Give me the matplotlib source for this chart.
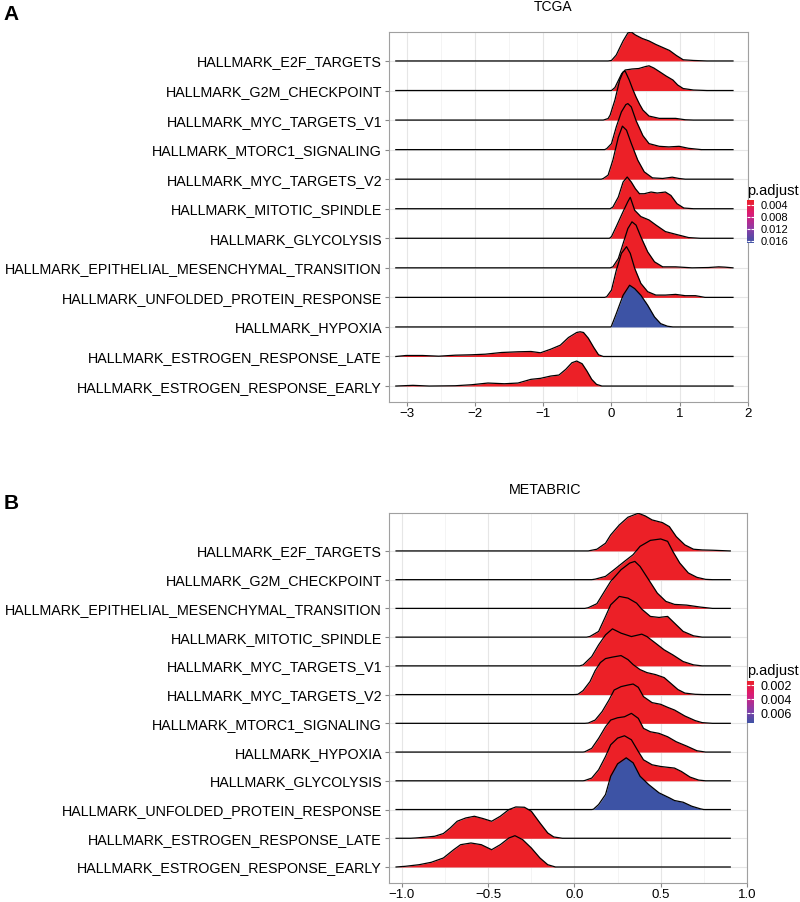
import matplotlib
matplotlib.use('Agg')
import matplotlib.pyplot as plt
import numpy as np
from matplotlib.colors import LinearSegmentedColormap, Normalize
from matplotlib.cm import ScalarMappable

plt.rcParams['font.family'] = ['Liberation Sans', 'DejaVu Sans']

# ---------------- Panel A : TCGA ----------------
tcga_terms = ["HALLMARK_E2F_TARGETS", "HALLMARK_G2M_CHECKPOINT", "HALLMARK_MYC_TARGETS_V1",
              "HALLMARK_MTORC1_SIGNALING", "HALLMARK_MYC_TARGETS_V2", "HALLMARK_MITOTIC_SPINDLE",
              "HALLMARK_GLYCOLYSIS", "HALLMARK_EPITHELIAL_MESENCHYMAL_TRANSITION",
              "HALLMARK_UNFOLDED_PROTEIN_RESPONSE", "HALLMARK_HYPOXIA",
              "HALLMARK_ESTROGEN_RESPONSE_LATE", "HALLMARK_ESTROGEN_RESPONSE_EARLY"]
tcga_padj = [0.0023, 0.0023, 0.0023, 0.0023, 0.0023, 0.0023, 0.0023, 0.0023, 0.0023, 0.0167, 0.0023, 0.0023]
tcga_range = [-3.16, 1.78]

tcga_e2f_x = [-0.05, 0.0, 0.07, 0.17, 0.24, 0.29, 0.35, 0.45, 0.55, 0.65, 0.75, 0.85, 0.95, 1.05, 1.2, 1.4]
tcga_e2f_h = [0, 0.5, 6, 20, 28, 29, 26, 22.5, 20, 16.5, 13.5, 10.5, 5.5, 1.2, 0.5, 0]
tcga_g2m_x = [0.0, 0.05, 0.1, 0.15, 0.2, 0.3, 0.4, 0.5, 0.55, 0.62, 0.7, 0.8, 0.9, 0.97, 1.05, 1.2, 1.4]
tcga_g2m_h = [0, 3, 10, 17, 20.5, 21.5, 22, 24, 24.7, 22.5, 19, 14.5, 10.5, 5.5, 2, 0.5, 0]
tcga_mycv1_x = [-0.12, -0.05, -0.02, 0.05, 0.12, 0.17, 0.2, 0.26, 0.31, 0.36, 0.41, 0.46, 0.55, 0.7, 0.85, 0.94, 1.08, 1.2]
tcga_mycv1_h = [0, 1.5, 5, 20, 40, 48, 49, 40, 31, 23, 16, 10, 4, 1.7, 1.7, 1.7, 0.3, 0]
tcga_mtorc1_x = [-0.1, -0.07, 0.0, 0.07, 0.145, 0.21, 0.24, 0.29, 0.36, 0.46, 0.55, 0.7, 0.84, 0.99, 1.13, 1.32]
tcga_mtorc1_h = [0, 1, 6, 22.7, 37.7, 45, 46, 42.7, 29, 14, 6, 3.3, 2.7, 3.3, 1.3, 0]
tcga_mycv2_x = [-0.15, -0.12, -0.05, 0.02, 0.1, 0.16, 0.22, 0.29, 0.385, 0.48, 0.6, 0.75, 0.89, 0.99, 1.08]
tcga_mycv2_h = [0, 0.7, 4, 19, 42, 53, 49, 35.7, 19, 7.3, 1.3, 0.7, 2, 0.7, 0]
tcga_mitotic_x = [-0.02, 0.02, 0.1, 0.17, 0.23, 0.29, 0.35, 0.41, 0.48, 0.58, 0.67, 0.79, 0.87, 0.96, 1.06, 1.2]
tcga_mitotic_h = [0, 1.7, 11.7, 26.7, 31.7, 26.7, 20, 15, 15, 16.7, 15.7, 16.7, 13.3, 5, 0.7, 0]
tcga_glyco_x = [-0.03, 0.0, 0.07, 0.17, 0.24, 0.275, 0.34, 0.43, 0.55, 0.65, 0.79, 0.94, 1.13, 1.3]
tcga_glyco_h = [0, 1.7, 11.7, 26.7, 36.7, 41, 28, 21.7, 18.3, 13.3, 6.7, 4, 0.7, 0]
tcga_emt_x = [-0.02, 0.02, 0.1, 0.17, 0.24, 0.3, 0.36, 0.43, 0.53, 0.63, 0.75, 0.94, 1.18, 1.42, 1.57, 1.66, 1.78]
tcga_emt_h = [0, 1, 9.3, 24.3, 39.3, 46, 42.7, 31, 16, 6, 1, 1, 0, 0.3, 1, 0.7, 0]
tcga_upr_x = [-0.1, -0.07, 0.0, 0.07, 0.145, 0.22, 0.275, 0.34, 0.43, 0.53, 0.65, 0.79, 0.94, 1.08, 1.23, 1.37]
tcga_upr_h = [0, 0.7, 7.3, 27, 44, 50.7, 44, 29, 14, 5.7, 2.3, 2.3, 3, 1.7, 1.7, 0]
tcga_hypoxia_x = [-0.01, 0.0, 0.07, 0.17, 0.265, 0.34, 0.43, 0.53, 0.63, 0.72, 0.82, 0.9]
tcga_hypoxia_h = [0, 1, 13.3, 31.7, 41.7, 38.3, 31.7, 21.7, 10, 3.3, 0.7, 0]
tcga_estlate_x = [-3.16, -3.01, -2.77, -2.53, -2.29, -2.05, -1.85, -1.61, -1.37, -1.18, -1.04, -0.89, -0.75,
                  -0.63, -0.51, -0.46, -0.41, -0.34, -0.26, -0.19, -0.12]
tcga_estlate_h = [0, 1, 1, 0.3, 1.3, 1.7, 2.3, 4, 4.7, 5, 3.7, 7.3, 11.3, 19, 24, 24.7, 24, 18.3, 9, 1.7, 0]
tcga_estearly_x = [-3.16, -2.91, -2.67, -2.29, -2.05, -1.81, -1.57, -1.37, -1.18, -1.04, -0.89, -0.77, -0.67,
                   -0.58, -0.51, -0.43, -0.36, -0.29, -0.22, -0.14]
tcga_estearly_h = [0, 0.7, 0, 0.3, 1.3, 3, 2.3, 3, 6.7, 7.7, 10, 11, 16.7, 23.3, 25, 22.3, 15, 6.7, 1.7, 0]

# ---------------- Panel B : METABRIC ----------------
meta_terms = ["HALLMARK_E2F_TARGETS", "HALLMARK_G2M_CHECKPOINT",
              "HALLMARK_EPITHELIAL_MESENCHYMAL_TRANSITION", "HALLMARK_MITOTIC_SPINDLE",
              "HALLMARK_MYC_TARGETS_V1", "HALLMARK_MYC_TARGETS_V2", "HALLMARK_MTORC1_SIGNALING",
              "HALLMARK_HYPOXIA", "HALLMARK_GLYCOLYSIS", "HALLMARK_UNFOLDED_PROTEIN_RESPONSE",
              "HALLMARK_ESTROGEN_RESPONSE_LATE", "HALLMARK_ESTROGEN_RESPONSE_EARLY"]
meta_padj = [0.0014, 0.0014, 0.0014, 0.0014, 0.0014, 0.0014, 0.0014, 0.0014, 0.0014, 0.0074, 0.0014, 0.0014]
meta_range = [-1.034, 0.903]

meta_e2f_x = [0.08, 0.13, 0.18, 0.21, 0.26, 0.31, 0.37, 0.41, 0.45, 0.51, 0.55, 0.59, 0.64, 0.69, 0.74, 0.8, 0.9]
meta_e2f_h = [0, 1.7, 7.7, 16, 26, 33.7, 37.7, 35, 31, 28.3, 24.3, 14.3, 6, 1.7, 1, 0.7, 0]
meta_g2m_x = [0.1, 0.12, 0.18, 0.23, 0.29, 0.34, 0.38, 0.44, 0.5, 0.54, 0.57, 0.61, 0.66, 0.71, 0.76, 0.8]
meta_g2m_h = [0, 0.5, 3.3, 10, 18.3, 25, 33.3, 39.3, 40.7, 38.3, 28.3, 16.7, 6.7, 2.3, 0.3, 0]
meta_emt_x = [0.06, 0.08, 0.13, 0.18, 0.21, 0.27, 0.32, 0.35, 0.38, 0.43, 0.48, 0.53, 0.58, 0.65, 0.73, 0.8]
meta_emt_h = [0, 0.7, 4.7, 18.7, 27, 38.7, 45.3, 47, 42, 28.7, 15.3, 7, 4, 3.3, 1.3, 0]
meta_mitotic_x = [0.07, 0.09, 0.14, 0.18, 0.21, 0.26, 0.31, 0.36, 0.39, 0.44, 0.49, 0.54, 0.58, 0.63, 0.69, 0.74]
meta_mitotic_h = [0, 0.7, 5.7, 20.7, 32.3, 40.7, 39, 34, 28, 20.7, 19.7, 20.7, 14, 5.7, 1.3, 0]
meta_mycv1_x = [0.03, 0.05, 0.1, 0.14, 0.18, 0.22, 0.27, 0.33, 0.39, 0.42, 0.47, 0.52, 0.57, 0.63, 0.69, 0.74]
meta_mycv1_h = [0, 1, 9.3, 21, 31, 37, 32.7, 29.3, 31.7, 29.3, 22.7, 16, 11, 4.3, 1, 0]
meta_mycv2_x = [0.0, 0.02, 0.05, 0.09, 0.12, 0.15, 0.18, 0.22, 0.27, 0.31, 0.34, 0.38, 0.42, 0.47, 0.52, 0.56,
                0.6, 0.64, 0.7, 0.75]
meta_mycv2_h = [0, 0.3, 4, 13, 24, 32, 36, 37.5, 39, 35, 30, 25, 22, 20, 17, 11, 5, 1.5, 0.3, 0]
meta_mtorc1_x = [0.06, 0.08, 0.12, 0.16, 0.2, 0.23, 0.27, 0.31, 0.34, 0.37, 0.4, 0.45, 0.5, 0.54, 0.58, 0.64,
                 0.7, 0.74, 0.8]
meta_mtorc1_h = [0, 0.3, 3.3, 11.7, 23.3, 33.3, 36.7, 38.3, 39.3, 36, 26.7, 20.7, 19, 16, 13.3, 7.3, 2.7, 0.7, 0]
meta_hypoxia_x = [0.05, 0.06, 0.1, 0.14, 0.18, 0.21, 0.25, 0.29, 0.33, 0.37, 0.4, 0.44, 0.49, 0.54, 0.59, 0.65,
                  0.71, 0.76]
meta_hypoxia_h = [0, 0.3, 3.7, 13.7, 25.3, 32, 34.3, 35.3, 38.7, 33.7, 23.7, 20.3, 18.7, 15.3, 10.3, 6, 1.3, 0]
meta_glyco_x = [0.05, 0.06, 0.1, 0.14, 0.18, 0.21, 0.25, 0.29, 0.33, 0.37, 0.4, 0.45, 0.5, 0.55, 0.58, 0.62,
                0.67, 0.72, 0.76]
meta_glyco_h = [0, 0.3, 2.7, 11, 24.3, 36, 42.7, 45, 41, 29.3, 21, 16, 14.3, 13.3, 12.7, 9.3, 3.7, 0.7, 0]
meta_upr_x = [0.1, 0.11, 0.14, 0.18, 0.21, 0.25, 0.3, 0.34, 0.38, 0.43, 0.49, 0.55, 0.58, 0.63, 0.68, 0.73, 0.75]
meta_upr_h = [0, 0.3, 5, 15, 33.3, 45.7, 51.7, 46.7, 33.3, 25, 16.7, 11.7, 9, 7.3, 3.3, 0.7, 0]
meta_estlate_x = [-0.95, -0.92, -0.87, -0.81, -0.76, -0.72, -0.68, -0.63, -0.58, -0.53, -0.48, -0.43, -0.38,
                  -0.34, -0.29, -0.25, -0.2, -0.155, -0.12, -0.07]
meta_estlate_h = [0, 0.3, 1, 2, 4.7, 10.3, 17, 20.3, 22, 19.7, 17, 22, 28.7, 31.3, 31, 27, 15.3, 5.3, 1.3, 0]
meta_estearly_x = [-1.034, -0.98, -0.9, -0.83, -0.76, -0.7, -0.66, -0.6, -0.54, -0.48, -0.43, -0.38, -0.345,
                   -0.3, -0.25, -0.2, -0.155, -0.11]
meta_estearly_h = [0, 0.7, 2.3, 4.7, 9, 17.3, 22.3, 24, 22.3, 17.3, 22.3, 29, 31.3, 27.3, 19, 9, 2.3, 0]

tcga_ridges = [(tcga_e2f_x, tcga_e2f_h), (tcga_g2m_x, tcga_g2m_h), (tcga_mycv1_x, tcga_mycv1_h),
               (tcga_mtorc1_x, tcga_mtorc1_h), (tcga_mycv2_x, tcga_mycv2_h), (tcga_mitotic_x, tcga_mitotic_h),
               (tcga_glyco_x, tcga_glyco_h), (tcga_emt_x, tcga_emt_h), (tcga_upr_x, tcga_upr_h),
               (tcga_hypoxia_x, tcga_hypoxia_h), (tcga_estlate_x, tcga_estlate_h),
               (tcga_estearly_x, tcga_estearly_h)]
meta_ridges = [(meta_e2f_x, meta_e2f_h), (meta_g2m_x, meta_g2m_h), (meta_emt_x, meta_emt_h),
               (meta_mitotic_x, meta_mitotic_h), (meta_mycv1_x, meta_mycv1_h), (meta_mycv2_x, meta_mycv2_h),
               (meta_mtorc1_x, meta_mtorc1_h), (meta_hypoxia_x, meta_hypoxia_h), (meta_glyco_x, meta_glyco_h),
               (meta_upr_x, meta_upr_h), (meta_estlate_x, meta_estlate_h), (meta_estearly_x, meta_estearly_h)]

tcga_xticks = [-3, -2, -1, 0, 1, 2]
tcga_xlabels = ["\u22123", "\u22122", "\u22121", "0", "1", "2"]
meta_xticks = [-1.0, -0.5, 0.0, 0.5, 1.0]
meta_xlabels = ["\u22121.0", "\u22120.5", "0.0", "0.5", "1.0"]
tcga_cbar_ticks = [0.004, 0.008, 0.012, 0.016]
meta_cbar_ticks = [0.002, 0.004, 0.006]

# ---------------- drawing ----------------
W, H = 800, 902
fig = plt.figure(figsize=(W / 100, H / 100), dpi=100)
fig.patch.set_facecolor('white')


def px_axes(l, t, r, b):
    return fig.add_axes([l / W, 1 - b / H, (r - l) / W, (b - t) / H])


cmap = LinearSegmentedColormap.from_list('padj', ['#EC2027', '#D91C78', '#8E3CA6', '#3D53A5'])
edge = '#A0A0A0'


def draw_panel(ax, terms, padj, ridges, line_range, hscale, xlim, ylim, xticks, xlabels, minor, norm):
    n = len(terms)
    for k, (p, (xs, hs)) in enumerate(zip(padj, ridges)):
        base = n - 1 - k
        x = np.concatenate([[line_range[0]], xs, [line_range[1]]])
        y = base + np.concatenate([[0], hs, [0]]) * hscale
        z = 3 + 2 * k
        ax.fill_between(x, base, y, color=cmap(norm(p)), lw=0, zorder=z)
        ax.plot(x, y, color='black', lw=0.9, zorder=z + 1, solid_joinstyle='round')
    ax.set_xlim(*xlim)
    ax.set_ylim(*ylim)
    ax.set_xticks(xticks)
    ax.set_xticklabels(xlabels)
    ax.set_xticks(minor, minor=True)
    ax.set_yticks(range(n))
    ax.set_yticklabels(terms[::-1])
    ax.grid(which='major', axis='both', color='#E6E6E6', lw=0.8, zorder=0)
    ax.grid(which='minor', axis='x', color='#F0F0F0', lw=0.5, zorder=0)
    ax.set_axisbelow(True)
    for s in ax.spines.values():
        s.set_color(edge)
        s.set_linewidth(0.8)
    ax.tick_params(axis='x', which='major', length=3, color='#888888', labelsize=9.5, pad=1.2, labelcolor='black')
    ax.tick_params(axis='x', which='minor', length=0)
    ax.tick_params(axis='y', length=3, color='#888888', labelsize=10.3, pad=2, labelcolor='black')


def draw_cbar(l, t, r, b, norm, ticks, title_y, lsize):
    cax = px_axes(l, t, r, b)
    cb = fig.colorbar(ScalarMappable(norm=norm, cmap=cmap), cax=cax, ticks=ticks)
    cax.invert_yaxis()
    cb.outline.set_visible(False)
    cax.yaxis.set_ticks_position('both')
    cax.tick_params(axis='y', direction='in', length=2, width=0.8, color='white',
                    labelleft=False, labelright=True, labelsize=lsize, pad=4.5)
    cax.set_yticklabels(["%.3f" % v for v in ticks])
    fig.text(l / W, 1 - title_y / H, 'p.adjust', ha='left', va='center', fontsize=10.5)


normA = Normalize(0.0023, 0.0167)
axA = px_axes(389, 32, 748, 402)
draw_panel(axA, tcga_terms, tcga_padj, tcga_ridges, tcga_range, 1 / 29.55, (-3.26, 2.0), (-0.54, 11.98),
           tcga_xticks, tcga_xlabels, [-2.5, -1.5, -0.5, 0.5, 1.5], normA)
draw_cbar(747, 200, 754, 243, normA, tcga_cbar_ticks, 191, 8)

normB = Normalize(0.0014, 0.0074)
axB = px_axes(389, 513, 747, 883)
draw_panel(axB, meta_terms, meta_padj, meta_ridges, meta_range, 1 / 28.73, (-1.075, 1.0), (-0.557, 12.32),
           meta_xticks, meta_xlabels, [-0.75, -0.25, 0.25, 0.75], normB)
draw_cbar(747, 681, 754, 723, normB, meta_cbar_ticks, 671, 9)

fig.text(553 / W, 1 - 7 / H, 'TCGA', ha='center', va='center', fontsize=10)
fig.text(545 / W, 1 - 490.5 / H, 'METABRIC', ha='center', va='center', fontsize=10.3)
fig.text(11 / W, 1 - 14.5 / H, 'A', ha='center', va='center', fontsize=15, fontweight='bold')
fig.text(11 / W, 1 - 504 / H, 'B', ha='center', va='center', fontsize=15, fontweight='bold')

fig.savefig('out.png', dpi=100, facecolor='white')
